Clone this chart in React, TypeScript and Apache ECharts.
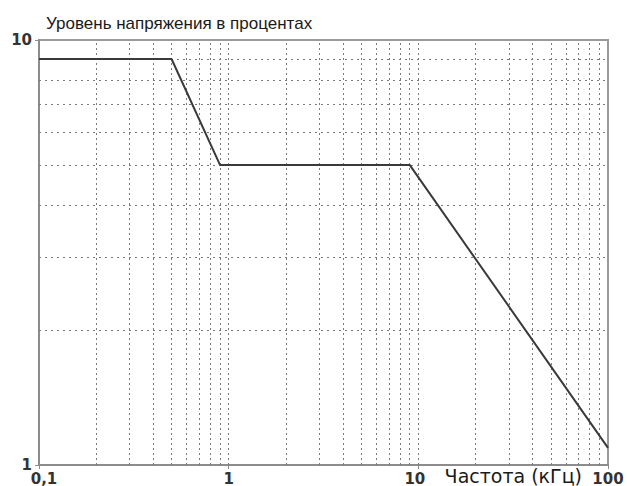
import React, { useEffect, useRef } from "react";
import * as echarts from "echarts";

const TITLE = "Уровень напряжения в процентах";
const X_NAME = "Частота (кГц)";
const X_MIN = 0.1;
const X_MAX = 100;
const Y_MIN = 0.946;
const Y_MAX = 10;
const freq = [0.1, 0.5, 0.9, 9, 100];
const level = [9, 9, 5, 5, 1.04];
const xGrid = [0.2, 0.3, 0.4, 0.5, 0.6, 0.7, 0.8, 0.9, 1, 2, 3, 4, 5, 6, 7, 8, 9, 10, 20, 30, 40, 50, 60, 70, 80, 90];
const yGrid = [2, 3, 4, 5, 6, 7, 8, 9];
const xTickLabels = ["0,1", "1", "10", "100"];
const yTickLabels = ["1", "10"];

const FONT = "DejaVu Sans";

export default function App() {
  const ref = useRef<HTMLDivElement>(null);
  useEffect(() => {
    document.body.style.margin = "0";
    const chart = echarts.init(ref.current!, null, { renderer: "svg" });
    const gridColor = "#7a7a7a";
    chart.setOption({
      animation: false,
      backgroundColor: "#ffffff",
      title: {
        text: TITLE,
        left: 41,
        top: 10,
        textStyle: { fontFamily: "Liberation Sans", fontSize: 17, fontWeight: "normal", color: "#1a1a1a" },
      },
      grid: {
        left: 39,
        right: 19,
        top: 40,
        bottom: 21,
        show: true,
        borderColor: "#9a9a9a",
        borderWidth: 2,
        backgroundColor: "transparent",
      },
      xAxis: {
        type: "log",
        logBase: 10,
        min: X_MIN,
        max: X_MAX,
        axisLine: { show: true, lineStyle: { color: "#8c8c8c", width: 2 } },
        axisTick: { show: true, length: 4, lineStyle: { color: "#8c8c8c", width: 1 } },
        splitLine: { show: false },
        minorTick: { show: false },
        name: X_NAME,
        nameLocation: "end",
        nameGap: -26,
        nameTextStyle: {
          fontFamily: FONT,
          fontSize: 19,
          color: "#1a1a1a",
          align: "right",
          verticalAlign: "top",
          padding: [1, 0, 0, 0],
        },
        axisLabel: {
          margin: 6,
          fontFamily: FONT,
          fontSize: 15,
          fontWeight: "bold",
          color: "#333",
          formatter: (v: number) => {
            const i = Math.round(Math.log10(v)) + 1;
            const t = xTickLabels[i] ?? "";
            if (i === 0) return "{a|" + t + "}";
            if (i === 2) return "{c|" + t + "}";
            return "{b|" + t + "}";
          },
          rich: {
            a: { fontFamily: FONT, fontSize: 15, fontWeight: "bold", color: "#333", padding: [0, 0, 0, 10] },
            b: { fontFamily: FONT, fontSize: 15, fontWeight: "bold", color: "#333" },
            c: { fontFamily: FONT, fontSize: 15, fontWeight: "bold", color: "#333", padding: [0, 7, 0, 0] },
          },
        },
      },
      yAxis: {
        type: "log",
        logBase: 10,
        min: Y_MIN,
        max: Y_MAX,
        axisLine: { show: true, lineStyle: { color: "#8c8c8c", width: 2 } },
        axisTick: { show: true, length: 4, customValues: [Y_MIN, Y_MAX], lineStyle: { color: "#8c8c8c", width: 1 } },
        splitLine: { show: false },
        minorTick: { show: false },
        axisLabel: {
          margin: 7,
          fontFamily: FONT,
          fontSize: 15,
          fontWeight: "bold",
          color: "#333",
          customValues: [Y_MIN, Y_MAX],
          formatter: (v: number) => (v < 1 ? yTickLabels[0] : v > 9 ? yTickLabels[1] : ""),
        },
      },
      series: [
        {
          type: "line",
          data: [],
          silent: true,
          markLine: {
            silent: true,
            symbol: ["none", "none"],
            label: { show: false },
            lineStyle: { type: [2, 3], color: gridColor, width: 1 },
            data: xGrid.map((v) => ({ xAxis: v })),
          },
        },
        {
          type: "line",
          data: [],
          silent: true,
          markLine: {
            silent: true,
            symbol: ["none", "none"],
            label: { show: false },
            lineStyle: { type: [2, 4], color: gridColor, width: 1 },
            data: yGrid.map((v) => ({ yAxis: v })),
          },
        },
        {
          type: "line",
          data: freq.map((f, i) => [f, level[i]]),
          symbol: "none",
          z: 5,
          lineStyle: { color: "#3a3a3a", width: 2 },
        },
      ],
    });
    return () => chart.dispose();
  }, []);
  return <div ref={ref} style={{ width: 627, height: 486 }} />;
}
